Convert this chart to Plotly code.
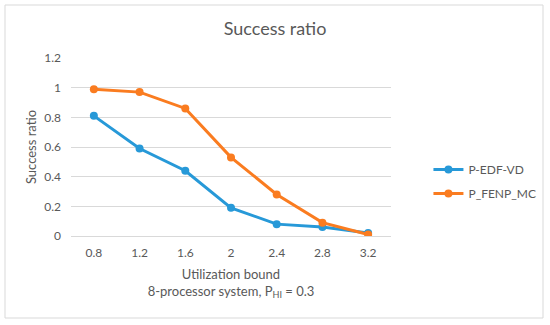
import plotly.graph_objects as go

categories = ["0.8", "1.2", "1.6", "2", "2.4", "2.8", "3.2"]
edf_vd = [0.81, 0.59, 0.44, 0.19, 0.08, 0.06, 0.02]
fenp_mc = [0.99, 0.97, 0.86, 0.53, 0.28, 0.09, 0.01]
y_ticks = [0, 0.2, 0.4, 0.6, 0.8, 1, 1.2]

FONT = "Lato"
GRAY = "#595959"

fig = go.Figure()
fig.add_trace(go.Scatter(x=categories, y=edf_vd, name="P-EDF-VD", mode="lines+markers", legendgroup="a",
                         line=dict(color="#2799D8", width=3), marker=dict(size=8, color="#2799D8")))
fig.add_trace(go.Scatter(x=categories, y=fenp_mc, name="P_FENP_MC", mode="lines+markers", legendgroup="b",
                         line=dict(color="#FA7C20", width=3), marker=dict(size=8, color="#FA7C20")))

fig.update_layout(
    width=550, height=325,
    margin=dict(l=71, r=159, t=58, b=89, autoexpand=False),
    paper_bgcolor="white", plot_bgcolor="white",
    font=dict(family=FONT, color=GRAY, size=12),
    title=dict(text="Success ratio", x=0.5, xanchor="center", xref="container",
               y=1 - 29 / 325, yanchor="middle", font=dict(size=18, color=GRAY, family=FONT)),
    showlegend=True,
    legend=dict(x=1.117, y=0.455, xanchor="left", yanchor="top", font=dict(size=12, color=GRAY),
                tracegroupgap=5, itemwidth=30),
    xaxis=dict(type="category", range=[-0.5, 6.5], showgrid=False, zeroline=False,
               showline=False, ticks="", ticklabelstandoff=8, tickfont=dict(size=12, color=GRAY),
               title=dict(text="Utilization bound<br>8-processor system, P<sub>HI</sub> = 0.3",
                          font=dict(size=13, color=GRAY), standoff=10)),
    yaxis=dict(range=[0, 1.2], tickvals=y_ticks, ticktext=["0", "0.2", "0.4", "0.6", "0.8", "1", "1.2"],
               showgrid=True, gridcolor="#d9d9d9", gridwidth=1, zeroline=True, zerolinecolor="#d9d9d9",
               zerolinewidth=1, showline=False, ticks="", ticklabelstandoff=9, tickfont=dict(size=12, color=GRAY),
               title=dict(text="Success ratio", font=dict(size=13, color=GRAY), standoff=4)),
    shapes=[dict(type="rect", xref="paper", yref="paper",
                 x0=(5 - 71) / 320, x1=(543 - 71) / 320,
                 y0=(236 - 318) / 178, y1=(236 - 5) / 178,
                 line=dict(color="#d9d9d9", width=1), fillcolor="rgba(0,0,0,0)", layer="below")],
)

fig.write_html("out.html", config={"displayModeBar": False},
               post_script="document.body.style.margin='0';")
